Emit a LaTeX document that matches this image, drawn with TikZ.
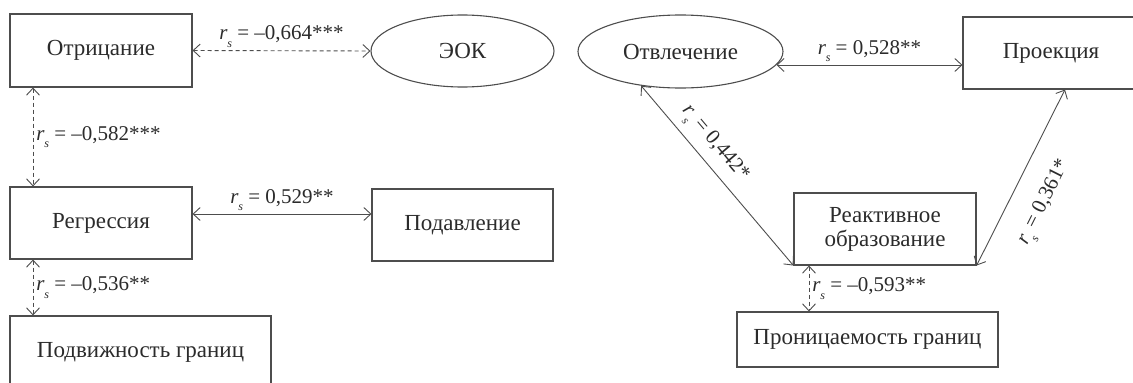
\documentclass[tikz,border=0pt]{standalone}
\usepackage{fontspec}
\setmainfont{Liberation Serif}
\usepackage{xcolor}
\definecolor{linegray}{HTML}{4d4d4d}
\definecolor{textgray}{HTML}{2b2b2b}
\usetikzlibrary{arrows.meta}
\usetikzlibrary{shapes.geometric}
\tikzset{>={Straight Barb[length=7pt,width=13pt]}}
\newcommand{\rsub}{\textit{r}\kern-0.3pt\raisebox{-0.75ex}{\fontsize{12}{12}\selectfont\textit{s}}}
\tikzset{
  blok/.style={draw=linegray, line width=1.1pt, rectangle, inner sep=0pt,
    text=textgray, font=\fontsize{23}{27}\selectfont, align=center},
  oval/.style={draw=linegray, line width=1.1pt, ellipse, inner sep=0pt,
    text=textgray, font=\fontsize{23}{27}\selectfont},
  svyaz/.style={<->, draw=linegray, line width=0.9pt},
  obratnaya/.style={<->, draw=linegray, line width=0.9pt, dash pattern=on 4pt off 3pt},
  koef/.style={text=textgray, font=\fontsize{21}{24}\selectfont, inner sep=3pt},
}

\begin{document}
\begin{tikzpicture}[x=1pt,y=-1pt]
    \clip (0,0) rectangle (1133,383);
    \useasboundingbox (0,0) rectangle (1133,383);
    % left part
    \node[blok, minimum width=182pt, minimum height=73pt] (otr) at (101,50.5) {Отрицание};
    \node[oval, minimum width=183pt, minimum height=72pt] (eok) at (462.5,51) {ЭОК};
    \node[blok, minimum width=182pt, minimum height=72pt] (regr) at (101,223) {Регрессия};
    \node[blok, minimum width=181pt, minimum height=72pt] (podav) at (462.5,225) {Подавление};
    \node[blok, minimum width=261pt, minimum height=72pt] (podv) at (140.5,352) {Подвижность границ};
    % right part
    \node[oval, minimum width=205pt, minimum height=73pt] (otvl) at (680.5,51.5) {Отвлечение};
    \node[blok, minimum width=176pt, minimum height=72pt] (proj) at (1051,53) {Проекция};
    \node[blok, minimum width=182pt, minimum height=72pt] (reakt) at (885,229) {Реактивное\\[-3pt]образование};
    \node[blok, minimum width=261pt, minimum height=55pt] (pron) at (867.5,339.5) {Проницаемость границ};

    \draw[obratnaya] (otr.east) -- (eok.west)
        node[koef, midway, above] (k1) {\rsub{} = –0,664***};
    \draw[obratnaya] ([xshift=-68pt]otr.south) -- ([xshift=-68pt]regr.north)
        node[koef, midway, right] (k2) {\rsub{} = –0,582***};
    \draw[svyaz] ([yshift=9pt]regr.east) coordinate (r1) -- (r1 -| podav.west)
        node[koef, midway, above] (k3) {\rsub{} = 0,529**};
    \draw[obratnaya] ([xshift=-68pt]regr.south) coordinate (r2) -- (r2 |- podv.north)
        node[koef, midway, right] (k4) {\rsub{} = –0,536**};

    \draw[svyaz] (otvl.-8) coordinate (o1) -- (o1 -| proj.west)
        node[koef, midway, above] (k5) {\rsub{} = 0,528**};
    \draw[svyaz] (otvl.221) -- (reakt.south west)
        node[koef, pos=0.39, above=4pt, sloped] (k6) {\rsub{} = 0,442*};
    \draw[svyaz] (reakt.south east) -- ([xshift=14pt]proj.south)
        node[koef, pos=0.44, below=19pt, sloped] (k7) {\rsub{} = 0,361*};
    \draw[obratnaya] ([xshift=-76pt]reakt.south) coordinate (r3) -- (r3 |- pron.north)
        node[koef, midway, right] (k8) {\rsub{} = –0,593**};
\end{tikzpicture}
\end{document}
